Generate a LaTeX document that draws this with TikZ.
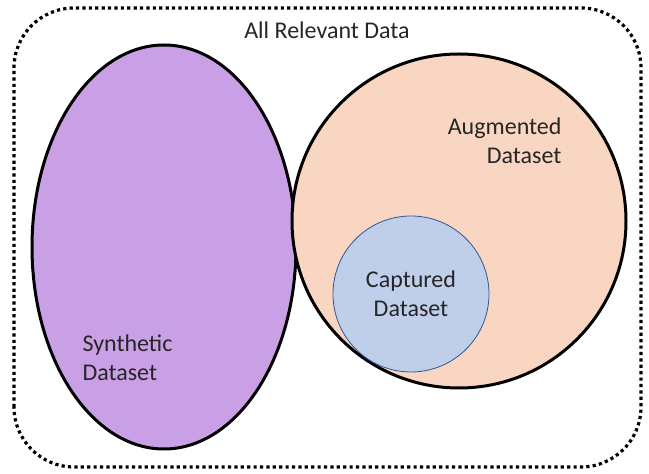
\documentclass[tikz,border=0pt]{standalone}
\usepackage{fontspec}
\setmainfont{Carlito}
\usetikzlibrary{shapes.geometric}
\definecolor{synthfill}{RGB}{201,160,229}
\definecolor{augfill}{RGB}{249,214,194}
\definecolor{capfill}{RGB}{191,207,234}
\definecolor{capline}{RGB}{47,85,151}
\tikzset{
  setlabel/.style={font=\fontsize{24}{29}\selectfont, text=black!85},
  bigset/.style={draw=black, line width=3pt, inner sep=0pt}
}
\begin{document}
\begin{tikzpicture}[x=1pt,y=1pt]
    \useasboundingbox (0,0) rectangle (649,474);
    % outer frame
    \draw[line width=3.2pt, dash pattern=on 3.2pt off 3.2pt, rounded corners=60pt]
        (14,7) rectangle (641,466);
    \node[setlabel] (all) at (327,444) {All Relevant Data};
    % the sets
    \node[bigset, ellipse, fill=synthfill, minimum width=264pt, minimum height=404pt] (synth) at (164,227) {};
    \node[bigset, circle, fill=augfill, minimum size=334pt] (aug) at (459,253) {};
    \node[circle, draw=capline, line width=0.8pt, fill=capfill, inner sep=0pt, minimum size=156pt] (cap) at (411,180) {};
    % labels
    \node[setlabel, align=right, anchor=east] (auglabel) at (565,333) {Augmented\\Dataset};
    \node[setlabel, align=left, anchor=west] (synthlabel) at (79,116) {Synthetic\\Dataset};
    \node[setlabel, align=center] (caplabel) at (cap.center) {Captured\\Dataset};
\end{tikzpicture}
\end{document}
